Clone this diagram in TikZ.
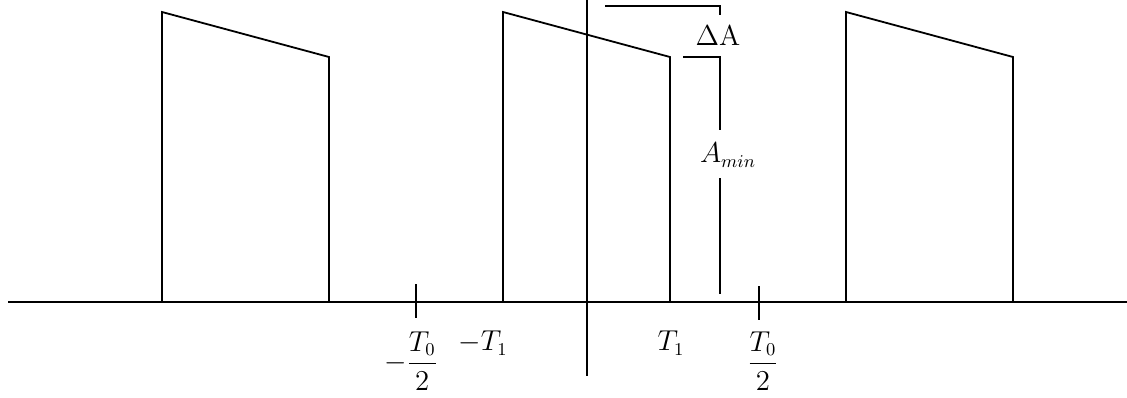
\documentclass[tikz,border=0pt]{standalone}
\usepackage{amsmath}
\begin{document}
\begin{tikzpicture}[x=0.5pt,y=-0.5pt,
  ln/.style={line width=0.9pt,black},
  lbl/.style={inner sep=0pt,font=\fontsize{13.5}{16}\selectfont}]
\useasboundingbox (0,0) rectangle (1127,397);
% axes
\draw[ln] (8,302) -- (1127,302);
\draw[ln] (587,0) -- (587,376);
% pulses
\draw[ln] (162,302) -- (162,12) -- (329,57) -- (329,302);
\draw[ln] (503,302) -- (503,12) -- (670,57) -- (670,302);
\draw[ln] (846,302) -- (846,12) -- (1013,57) -- (1013,302);
% ticks
\draw[ln] (416,284) -- (416,318);
\draw[ln] (759,286) -- (759,320);
% Delta A bracket
\draw[ln] (605,6) -- (720,6) -- (720,15);
\node[lbl] (dA) at (718,36) {$\Delta\mathrm{A}$};
% A_min bracket
\draw[ln] (683,57) -- (720,57) -- (720,130);
\node[lbl] (amin) at (728,155) {$A_{min}$};
\draw[ln] (720,178) -- (720,294);
% labels
\node[lbl] (mt0) at (411,361) {$-\dfrac{T_0}{2}$};
\node[lbl] (mt1) at (483,343) {$-T_1$};
\node[lbl] (t1) at (671,343) {$T_1$};
\node[lbl] (t0) at (763,361) {$\dfrac{T_0}{2}$};
\end{tikzpicture}
\end{document}
